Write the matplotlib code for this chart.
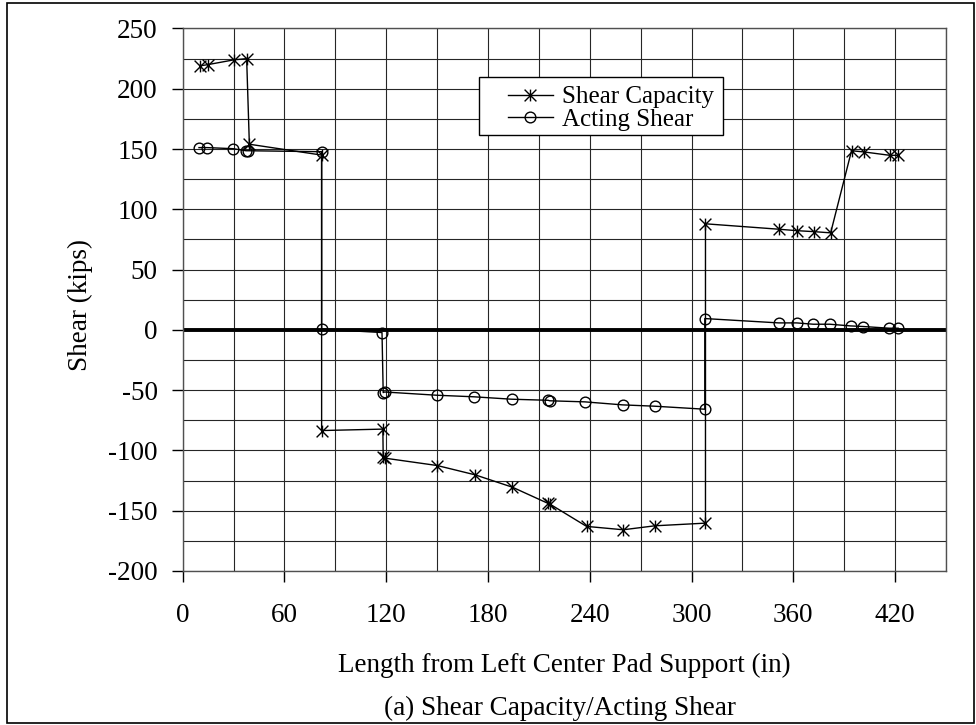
import numpy as np
import matplotlib.pyplot as plt
from matplotlib.ticker import MultipleLocator
from matplotlib.patches import Rectangle
from matplotlib.path import Path

plt.rcParams['font.family'] = ['Liberation Serif', 'DejaVu Serif']
plt.rcParams['axes.unicode_minus'] = False

# Shear capacity (kips) along the beam
cap_x = [10.2, 14.7, 30.2, 37.7, 39.3, 81.9, 81.9, 118.0, 118.2, 119.2, 150.0,
         172.3, 194.4, 215.5, 216.5, 238.1, 259.7, 278.4, 308.2, 308.2, 351.5,
         362.1, 372.0, 382.0, 394.3, 401.7, 416.9, 421.8]
cap_y = [219, 220, 224, 225, 154, 145, -83.5, -82.3, -105.5, -106.4, -112.5,
         -120.2, -130.5, -144, -144.5, -163, -165.8, -162.5, -160.3, 88, 83.5,
         82.3, 81.5, 80.5, 148.6, 147.6, 144.8, 144.8]

# Acting shear (kips)
act_x = [9.6, 14.5, 29.8, 37.3, 38.7, 81.9, 81.9, 117.5, 118.2, 119.0, 149.7,
         171.7, 193.9, 215.5, 216.3, 237.1, 259.3, 278.2, 307.8, 307.8, 351.3,
         361.9, 371.7, 381.5, 393.7, 401.2, 416.5, 421.8]
act_y = [151.2, 151.2, 150.3, 148.6, 148.6, 147.8, 0.6, -2.2, -52, -51.5, -54.2,
         -55.5, -57.5, -58.4, -58.8, -59.7, -62.2, -63.3, -65.8, 9.4, 5.8,
         5.8, 4.7, 4.7, 3.3, 2.8, 1.4, 1.4]

# Excel-style star: an X with a vertical bar through it
star = Path([(0, -1), (0, 1), (-1, -1), (1, 1), (-1, 1), (1, -1)],
            [Path.MOVETO, Path.LINETO] * 3)

W, H = 976, 725
fig = plt.figure(figsize=(W / 100, H / 100), dpi=100)
ax = fig.add_axes([182.7 / W, 1 - 571 / H, (946 - 182.7) / W, (571 - 28.5) / H])

ax.set_xlim(0, 450)
ax.set_ylim(-200, 250)
ax.xaxis.set_major_locator(MultipleLocator(60))
ax.xaxis.set_minor_locator(MultipleLocator(30))
ax.yaxis.set_major_locator(MultipleLocator(50))
ax.yaxis.set_minor_locator(MultipleLocator(25))
ax.set_xticks(np.arange(0, 421, 60))
ax.grid(True, which='both', color='#262626', lw=0.8)
ax.set_axisbelow(True)
ax.tick_params(which='major', direction='out', length=8, width=1, labelsize=19.5, color='black')
ax.tick_params(axis='x', which='major', pad=15)
ax.tick_params(axis='y', which='major', pad=10)
ax.tick_params(which='minor', length=0)
for s in ax.spines.values():
    s.set_color('#505050')
    s.set_linewidth(1)

ax.axhline(0, color='black', lw=2.8, zorder=2)

ax.plot(cap_x, cap_y, color='black', lw=1, marker=star, markersize=8.5,
        markeredgewidth=1, label='Shear Capacity', zorder=3)
ax.plot(act_x, act_y, color='black', lw=1, marker='o', markersize=7.7,
        markerfacecolor='none', markeredgewidth=1, label='Acting Shear', zorder=3)

leg = ax.legend(loc='upper left', bbox_to_anchor=(508 / W, 1 - 86 / H),
                bbox_transform=fig.transFigure, fontsize=18, frameon=False,
                borderpad=0, handlelength=1.8, handletextpad=0.35,
                labelspacing=0.0, borderaxespad=0, numpoints=1)
fig.patches.append(Rectangle((479 / W, 1 - 135 / H), 244 / W, 58 / H,
                             transform=fig.transFigure, facecolor='white',
                             edgecolor='black', lw=1, zorder=4))
leg.set_zorder(5)
fig.legends.append(ax.get_legend())
ax.get_legend().remove()

fig.text(80 / W, 1 - 305 / H, 'Shear (kips)', rotation=90, ha='center', va='center', fontsize=19.5)
fig.text(564 / W, 1 - 665 / H, 'Length from Left Center Pad Support (in)', ha='center', va='center', fontsize=19.5)
fig.text(560 / W, 1 - 708 / H, '(a) Shear Capacity/Acting Shear', ha='center', va='center', fontsize=19.5)

fig.patches.append(Rectangle((7 / W, 2 / H), 967 / W, 720 / H, transform=fig.transFigure,
                             fill=False, edgecolor='black', lw=1.2))

fig.savefig('out.png', dpi=100)
